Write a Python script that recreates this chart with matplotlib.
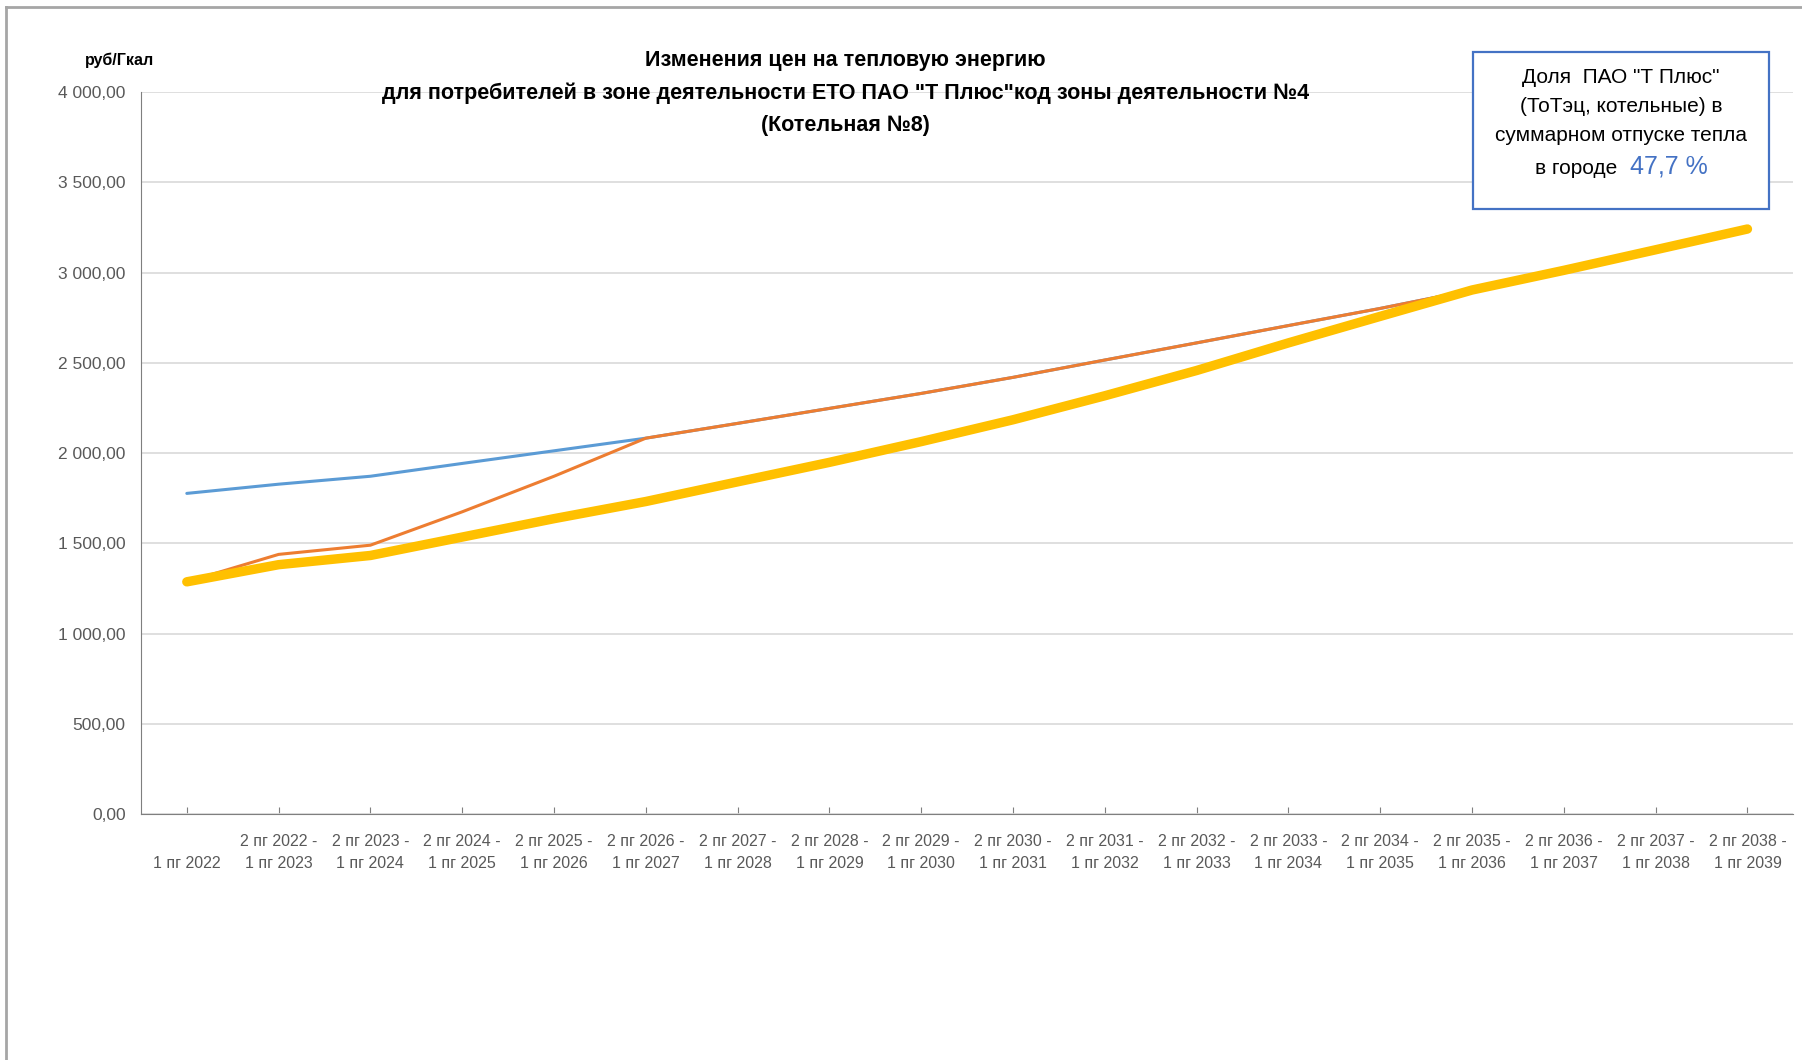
import matplotlib.pyplot as plt
from matplotlib.lines import Line2D
from matplotlib.patches import Rectangle

plt.rcParams['font.family'] = ['Liberation Sans', 'DejaVu Sans']

# Data
periods = ['1 пг 2022'] + ['2 пг %d -\n1 пг %d' % (y, y + 1) for y in range(2022, 2039)]
blue_vals = [1777, 1828, 1872, 1943, 2013, 2083, 2165, 2248, 2331, 2420, 2516, 2611, 2707, 2802, 2904]
orange_vals = [1287, 1439, 1490, 1675, 1872, 2083, 2165, 2248, 2331, 2420, 2516, 2611, 2707, 2802, 2904]
yellow_vals = [1287, 1382, 1433, 1535, 1637, 1732, 1841, 1949, 2064, 2185, 2318, 2458, 2611, 2758, 2904,
               3013, 3127, 3242]
y_ticks = [0, 500, 1000, 1500, 2000, 2500, 3000, 3500, 4000]
title_lines = ['Изменения цен на тепловую энергию',
               'для потребителей в зоне деятельности ЕТО ПАО "Т Плюс"код зоны деятельности №4',
               '(Котельная №8)']
box_lines = ['Доля  ПАО "Т Плюс"', '(ТоТэц, котельные) в', 'суммарном отпуске тепла']

fig = plt.figure(figsize=(18.02, 10.6), dpi=100)
ax = fig.add_axes([0.0782, 0.232, 0.917, 0.681])

x_all = list(range(len(periods)))
ax.plot(x_all[:len(blue_vals)], blue_vals, color='#5B9BD5', lw=2.2, zorder=3, solid_capstyle='round')
ax.plot(x_all[:len(orange_vals)], orange_vals, color='#ED7D31', lw=2.2, zorder=4, solid_capstyle='round')
ax.plot(x_all, yellow_vals, color='#FFC000', lw=6.8, zorder=5, solid_capstyle='round')

ax.set_xlim(-0.5, len(periods) - 0.5)
ax.set_ylim(0, 4000)
ax.set_yticks(y_ticks)
ax.set_yticklabels([('%d' % v if v < 1000 else '%d %03d' % (v // 1000, v % 1000)) + ',00' for v in y_ticks])
ax.set_xticks(x_all)
ax.set_xticklabels(['\n' + periods[0]] + periods[1:], linespacing=1.6)

ax.grid(axis='y', color='#D9D9D9', lw=1.2)
ax.set_axisbelow(True)
for s in ['top', 'right']:
    ax.spines[s].set_visible(False)
ax.spines['left'].set_color('#7F7F7F')
ax.spines['bottom'].set_color('#7F7F7F')
ax.tick_params(axis='x', direction='in', length=5, color='#7F7F7F', pad=14, labelsize=11.5, labelcolor='#595959')
ax.tick_params(axis='y', length=0, pad=11, labelsize=12.5, labelcolor='#595959')

# Outer frame (left and top edges)
fig.add_artist(Line2D([0.0035, 0.0035], [0, 0.993], color='#A6A6A6', lw=2, transform=fig.transFigure))
fig.add_artist(Line2D([0.0035, 1], [0.993, 0.993], color='#A6A6A6', lw=2, transform=fig.transFigure))

for i, t in enumerate(title_lines):
    fig.text(0.469, 0.943 - i * 0.0305, t, ha='center', va='center', fontsize=15.5, fontweight='bold')
fig.text(0.0666, 0.943, 'руб/Гкал', ha='center', va='center', fontsize=11.5, fontweight='bold')

# Info box
fig.add_artist(Rectangle((0.8174, 0.803), 0.1643, 0.148, transform=fig.transFigure,
                         facecolor='white', edgecolor='#4472C4', lw=1.6, zorder=10))
for i, t in enumerate(box_lines):
    fig.text(0.8996, 0.927 - i * 0.0272, t, ha='center', va='center', fontsize=15, zorder=11)
fig.text(0.8973, 0.841, 'в городе', ha='right', va='center', fontsize=15, zorder=11)
fig.text(0.9045, 0.843, '47,7 %', ha='left', va='center', fontsize=18, color='#4472C4', zorder=11)

fig.savefig('out.png', dpi=100)
